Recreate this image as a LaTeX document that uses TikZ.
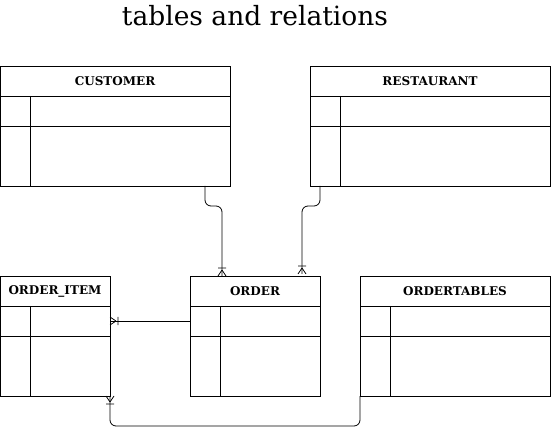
\documentclass[tikz,border=0pt]{standalone}
\usepackage{fontspec}
\setmainfont{DejaVu Serif}
\newcommand{\erTable}[6]{% name, x1, y1, x2, y2, label
  \draw[tbl] (#2,#3) rectangle (#4,#5);
  \draw[ln] (#2,#3+30) -- (#4,#3+30);
  \draw[ln] (#2,#3+60) -- (#4,#3+60);
  \draw[ln] (#2+30,#3+30) -- (#2+30,#5);
  \node[hdr] (#1) at ({(#2+#4)/2},#3+15) {#6};
}
\begin{document}
\begin{tikzpicture}[x=1pt,y=-1pt,
  tbl/.style={draw,line width=0.8pt},
  ln/.style={line width=0.8pt},
  hdr/.style={font=\fontsize{12}{14}\selectfont\bfseries},
  conn/.style={line width=0.8pt,rounded corners=6pt},
  crow/.style={line width=0.8pt}]
\useasboundingbox (0,0) rectangle (551,435);
\node[font=\fontsize{26.5}{30}\selectfont] (title) at (255,16) {tables and relations};
\erTable{cust}{0}{66}{230}{186}{CUSTOMER}
\erTable{rest}{310}{66}{550}{186}{RESTAURANT}
\erTable{oi}{0}{276}{110}{396}{ORDER\_ITEM}
\erTable{ord}{190}{276}{320}{396}{ORDER}
\erTable{ot}{360}{276}{550}{396}{ORDERTABLES}
% connector end points
\coordinate (c1s) at (205,186);
\coordinate (c1e) at (222,276);
\coordinate (c2s) at (320,186);
\coordinate (c2e) at (302,274);
\coordinate (c3s) at (190,321);
\coordinate (c3e) at (110,321);
\coordinate (c4s) at (360,396);
\coordinate (c4e) at (110,396);
\draw[conn] (c1s) -- (205,206) -- (222,206) -- (c1e);
\draw[conn] (c2s) -- (320,206) -- (302,206) -- (c2e);
\draw[ln] (c3s) -- (c3e);
\draw[conn] (c4s) -- (360,426) -- (110,426) -- (c4e);
% crow's feet (one or many)
\draw[crow] ([yshift=6]c1e) -- ([xshift=-4]c1e) ([yshift=6]c1e) -- ([xshift=4]c1e)
  ([xshift=-4,yshift=8]c1e) -- ([xshift=4,yshift=8]c1e);
\draw[crow] ([yshift=6]c2e) -- ([xshift=-4]c2e) ([yshift=6]c2e) -- ([xshift=4]c2e)
  ([xshift=-4,yshift=8]c2e) -- ([xshift=4,yshift=8]c2e);
\draw[crow] ([xshift=6]c3e) -- ([yshift=-4]c3e) ([xshift=6]c3e) -- ([yshift=4]c3e)
  ([xshift=8,yshift=-4]c3e) -- ([xshift=8,yshift=4]c3e);
\draw[crow] ([yshift=-6]c4e) -- ([xshift=-4]c4e) ([yshift=-6]c4e) -- ([xshift=4]c4e)
  ([xshift=-4,yshift=-8]c4e) -- ([xshift=4,yshift=-8]c4e);
\end{tikzpicture}
\end{document}
